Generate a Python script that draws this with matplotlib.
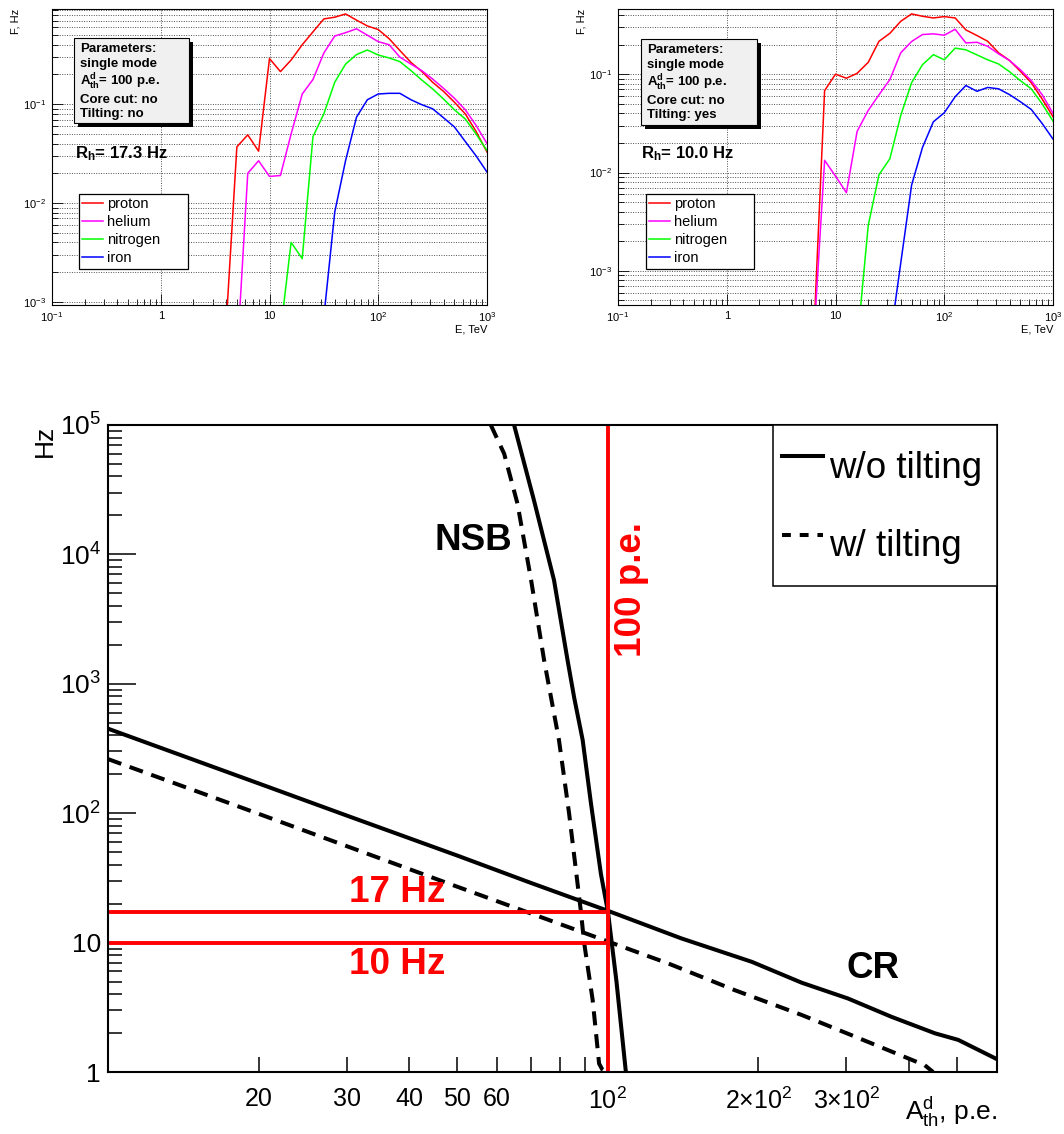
import numpy as np
import matplotlib
matplotlib.use('Agg')
import matplotlib.pyplot as plt
from matplotlib.patches import Rectangle
from matplotlib.lines import Line2D
from matplotlib.ticker import FixedLocator, LogLocator, FuncFormatter, NullFormatter

plt.rcParams['font.family'] = ['Liberation Sans', 'DejaVu Sans']
plt.rcParams['mathtext.fontset'] = 'custom'
plt.rcParams['mathtext.rm'] = 'Liberation Sans'
plt.rcParams['mathtext.it'] = 'Liberation Sans:italic'
plt.rcParams['mathtext.bf'] = 'Liberation Sans:bold'

# ---------------- data: top panels (trigger rate spectra) ----------------
energy_tev = [3.98, 5.01, 6.31, 7.94, 10.0, 12.6, 15.8, 20.0, 25.1, 31.6, 39.8, 50.1,
              63.1, 79.4, 100, 126, 158, 200, 251, 316, 398, 501, 631, 794, 1000]

# w/o tilting (left)
left_proton = [5.5e-4, 0.037, 0.049, 0.0335, 0.29, 0.214, 0.28, 0.40, 0.54, 0.73, 0.76, 0.82,
               0.71, 0.62, 0.57, 0.46, 0.35, 0.265, 0.215, 0.167, 0.135, 0.105, 0.080, 0.053, 0.0328]
left_helium = [2.6e-4, 0.020, 0.0268, 0.0186, 0.019, 0.050, 0.127, 0.178, 0.33, 0.49, 0.53,
               0.58, 0.50, 0.43, 0.40, 0.30, 0.255, 0.219, 0.18, 0.145, 0.115, 0.088, 0.061, 0.040]
left_nitrogen = [4.9e-4, 0.0040, 0.00274, 0.047, 0.080, 0.167, 0.255, 0.318, 0.354, 0.315,
                 0.294, 0.27, 0.219, 0.176, 0.143, 0.113, 0.088, 0.071, 0.050, 0.034]
left_iron = [7e-4, 0.0081, 0.027, 0.074, 0.111, 0.127, 0.129, 0.129, 0.111, 0.099, 0.090,
             0.073, 0.059, 0.042, 0.030, 0.0206]

# w/ tilting (right)
right_proton = [2.2e-4, 0.068, 0.10, 0.091, 0.102, 0.132, 0.216, 0.26, 0.345, 0.41, 0.388,
                0.373, 0.385, 0.373, 0.282, 0.247, 0.216, 0.165, 0.138, 0.107, 0.082, 0.056, 0.037]
right_helium = [2e-4, 0.0133, 0.0092, 0.00624, 0.0262, 0.0428, 0.0617, 0.088, 0.165, 0.215,
                0.253, 0.257, 0.249, 0.286, 0.208, 0.211, 0.192, 0.161, 0.138, 0.111, 0.086, 0.062, 0.040]
right_nitrogen = [1.8e-4, 0.0029, 0.0095, 0.0138, 0.038, 0.082, 0.125, 0.158, 0.14, 0.184,
                  0.177, 0.157, 0.14, 0.127, 0.106, 0.086, 0.071, 0.050, 0.0334]
right_iron = [1.9e-4, 0.0012, 0.00746, 0.018, 0.0328, 0.0405, 0.059, 0.0767, 0.067, 0.0733,
              0.071, 0.062, 0.0525, 0.0438, 0.0316, 0.0219]

species = ['proton', 'helium', 'nitrogen', 'iron']
species_colors = ['#ff0000', '#ff00ff', '#00ff00', '#0000ff']

# ---------------- data: bottom panel (rate vs threshold) ----------------
cr_notilt_A = [10, 20, 30, 50, 70, 100, 140, 194, 244, 302, 369, 451, 502, 604]
cr_notilt_Hz = [450, 170, 96, 47, 29, 17.6, 10.8, 7.1, 4.9, 3.7, 2.67, 1.99, 1.77, 1.24]
cr_tilt_A = [10, 20, 50, 100, 132, 179, 244, 331, 430, 447]
cr_tilt_Hz = [262, 99, 27, 10.2, 6.9, 4.3, 2.76, 1.71, 1.13, 1.0]
nsb_notilt_A = [64.9, 71.1, 78, 83, 85.6, 89, 92.5, 96.8, 100, 104, 108.6]
nsb_notilt_Hz = [1e5, 2.63e4, 6330, 1530, 780, 368, 118, 34, 17.3, 5.0, 1.0]
nsb_tilt_A = [58.3, 62, 65.9, 70.2, 74.5, 79.8, 83.6, 88.3, 89.6, 93.2, 96, 97.5, 99]
nsb_tilt_Hz = [1e5, 6.0e4, 2.48e4, 6310, 1530, 368, 100, 17.3, 10, 3.6, 1.16, 1.04, 1.0]

threshold_pe = 100
rate_notilt = 17.3
rate_tilt = 10.0

W, H = 1064, 1134
fig = plt.figure(figsize=(W / 100, H / 100), dpi=100)


def fx(x):
    return x / W


def fy(y):
    return 1 - y / H


def rect(x0, y0, x1, y1):
    return [fx(x0), fy(y1), fx(x1) - fx(x0), fy(y0) - fy(y1)]


def top_fmt(v, pos):
    table = {0.1: r'$\mathregular{10^{-1}}$', 1: '1', 10: '10', 100: r'$\mathregular{10^{2}}$',
             1000: r'$\mathregular{10^{3}}$', 0.01: r'$\mathregular{10^{-2}}$',
             0.001: r'$\mathregular{10^{-3}}$'}
    for k, s in table.items():
        if abs(v - k) / k < 1e-6:
            return s
    return ''


def top_panel(frame, ylim, data, params, rh, boxpx, rhpx, legpx, ylab_x):
    ax = fig.add_axes(rect(*frame))
    ax.set_xscale('log')
    ax.set_yscale('log')
    for name, vals, col in zip(species, data, species_colors):
        ax.plot(energy_tev[-len(vals):], vals, color=col, lw=1.1, label=name)
    ax.set_xlim(0.1, 1000)
    ax.set_ylim(*ylim)
    ax.xaxis.set_major_locator(FixedLocator([0.1, 1, 10, 100, 1000]))
    ax.xaxis.set_minor_locator(LogLocator(base=10, subs=np.arange(2, 10), numticks=30))
    ax.yaxis.set_major_locator(FixedLocator([1e-3, 1e-2, 1e-1]))
    ax.yaxis.set_minor_locator(LogLocator(base=10, subs=np.arange(2, 10), numticks=30))
    ax.xaxis.set_major_formatter(FuncFormatter(top_fmt))
    ax.yaxis.set_major_formatter(FuncFormatter(top_fmt))
    ax.xaxis.set_minor_formatter(NullFormatter())
    ax.yaxis.set_minor_formatter(NullFormatter())
    ax.tick_params(which='both', direction='in', top=False, right=False, labelsize=8, width=0.6)
    ax.tick_params(which='major', length=8, pad=4)
    ax.tick_params(which='minor', length=4)
    ax.grid(True, which='major', axis='x', ls=(0, (1, 1.5)), color='#505050', lw=0.7)
    ax.grid(True, which='both', axis='y', ls=(0, (1, 1.5)), color='#505050', lw=0.7)
    for sp in ax.spines.values():
        sp.set_linewidth(0.8)
    # axis titles
    fig.text(fx(ylab_x), fy(frame[1]), 'F, Hz', rotation=90, ha='center', va='top', fontsize=8)
    fig.text(fx(frame[2]), fy(330), 'E, TeV', ha='right', va='center', fontsize=8)
    # parameter box with shadow
    x0, y0, x1, y1 = boxpx
    fig.add_artist(Rectangle((fx(x0 + 4), fy(y1 + 4)), fx(x1) - fx(x0), fy(y0) - fy(y1),
                             transform=fig.transFigure, facecolor='black', edgecolor='none', zorder=5))
    fig.add_artist(Rectangle((fx(x0), fy(y1)), fx(x1) - fx(x0), fy(y0) - fy(y1),
                             transform=fig.transFigure, facecolor='#f0f0f0', edgecolor='black',
                             lw=0.8, zorder=6))
    ys = [49, 64, 82, 100, 114]
    for s, yy in zip(params, ys):
        fig.text(fx(x0 + 6), fy(y0 + yy - 38), s, fontsize=9.5, fontweight='bold', va='center',
                 ha='left', zorder=7)
    fig.text(fx(rhpx[0]), fy(rhpx[1]), rh, fontsize=12, fontweight='bold', va='center', ha='left',
             zorder=7)
    lx0, ly0, lx1, ly1 = legpx
    leg = ax.legend(loc='upper left', bbox_to_anchor=(fx(lx0), fy(ly0), fx(lx1) - fx(lx0), 0.0),
                    bbox_transform=fig.transFigure, mode='expand', borderaxespad=0,
                    fancybox=False, edgecolor='black', framealpha=1, fontsize=10.5,
                    handlelength=1.4, handletextpad=0.3, labelspacing=0.28, borderpad=0.22)
    leg.get_frame().set_linewidth(0.9)
    return ax


params_left = ['Parameters:', 'single mode', r'$\mathbf{A^{d}_{th}}$= 100 p.e.', 'Core cut: no',
               'Tilting: no']
params_right = ['Parameters:', 'single mode', r'$\mathbf{A^{d}_{th}}$= 100 p.e.', 'Core cut: no',
                'Tilting: yes']

top_panel((52, 9, 487, 305), (9.3e-4, 0.92),
          [left_proton, left_helium, left_nitrogen, left_iron], params_left,
          r'$\mathbf{R_{h}}$= 17.3 Hz', (74, 38, 189, 123), (75, 154), (79, 194, 188, 268), 15)
top_panel((618, 9, 1053, 305), (4.5e-4, 0.46),
          [right_proton, right_helium, right_nitrogen, right_iron], params_right,
          r'$\mathbf{R_{h}}$= 10.0 Hz', (641, 39, 757, 125), (641, 154), (646, 194, 754, 268), 581)

# ---------------- bottom panel ----------------
ax = fig.add_axes(rect(108, 425, 997, 1072))
ax.set_xscale('log')
ax.set_yscale('log')
lw = 2.9
dash = (0, (3.5, 2.2))
ax.plot(cr_notilt_A, cr_notilt_Hz, color='black', lw=lw, solid_joinstyle='round')
ax.plot(cr_tilt_A, cr_tilt_Hz, color='black', lw=lw, ls=dash)
ax.plot(nsb_notilt_A, nsb_notilt_Hz, color='black', lw=lw, solid_joinstyle='round')
ax.plot(nsb_tilt_A, nsb_tilt_Hz, color='black', lw=lw, ls=dash)
ax.plot([10, threshold_pe], [rate_notilt, rate_notilt], color='#ff0000', lw=2.8)
ax.plot([10, threshold_pe], [rate_tilt, rate_tilt], color='#ff0000', lw=2.8)
ax.plot([threshold_pe, threshold_pe], [1, 1e5], color='#ff0000', lw=2.8)
ax.set_xlim(10, 600)
ax.set_ylim(1, 1e5)

xt = [20, 30, 40, 50, 60, 70, 80, 90, 100, 200, 300, 400, 500]
xl = {20: '20', 30: '30', 40: '40', 50: '50', 60: '60', 100: r'$\mathregular{10^{2}}$',
      200: r'$\mathregular{2{\times}10^{2}}$', 300: r'$\mathregular{3{\times}10^{2}}$'}
ax.xaxis.set_major_locator(FixedLocator(xt))
ax.xaxis.set_minor_locator(FixedLocator([]))
ax.set_xticklabels([xl.get(v, '') for v in xt])
ax.yaxis.set_major_locator(FixedLocator([1, 10, 100, 1e3, 1e4, 1e5]))
ax.yaxis.set_minor_locator(LogLocator(base=10, subs=np.arange(2, 10), numticks=30))
ax.yaxis.set_minor_formatter(NullFormatter())
ax.set_yticklabels(['1', '10', r'$\mathregular{10^{2}}$', r'$\mathregular{10^{3}}$',
                    r'$\mathregular{10^{4}}$', r'$\mathregular{10^{5}}$'])
ax.tick_params(axis='x', which='major', direction='in', length=11, width=1.1, labelsize=18,
               pad=11, top=False)
ax.tick_params(axis='y', which='major', direction='in', length=20, width=1.1, labelsize=19,
               pad=5, right=False)
ax.tick_params(axis='y', which='minor', direction='in', length=10, width=1.1, right=False)
for sp in ax.spines.values():
    sp.set_linewidth(1.5)

ax.text(0.4106, 0.822, 'NSB', transform=ax.transAxes, ha='center', va='center', fontsize=26.5,
        fontweight='bold')
ax.text(0.8605, 0.1607, 'CR', transform=ax.transAxes, ha='center', va='center', fontsize=26.5,
        fontweight='bold')
ax.text(0.325, 0.2767, '17 Hz', transform=ax.transAxes, ha='center', va='center', fontsize=26.5,
        fontweight='bold', color='#ff0000')
ax.text(0.325, 0.1654, '10 Hz', transform=ax.transAxes, ha='center', va='center', fontsize=26.5,
        fontweight='bold', color='#ff0000')
ax.text(0.5894, 0.745, '100 p.e.', transform=ax.transAxes, ha='center', va='center',
        fontsize=26.5, fontweight='bold', color='#ff0000', rotation=90)

handles = [Line2D([], [], color='black', lw=lw),
           Line2D([], [], color='black', lw=lw, ls=(0, (2.2, 2.2)))]
leg = ax.legend(handles, ['w/o tilting', 'w/ tilting'], loc='upper left',
                bbox_to_anchor=((773 - 108) / 889, 1.0, 224 / 889, 0.0), mode='expand',
                borderaxespad=0, fancybox=False, edgecolor='black', framealpha=1, fontsize=26.5,
                handlelength=1.1, handleheight=2.3, handletextpad=0.17, labelspacing=0.4,
                borderpad=0.25)
leg.get_frame().set_linewidth(1.1)

fig.text(fx(45), fy(425), 'Hz', rotation=90, ha='center', va='top', fontsize=19)
fig.text(fx(997), fy(1112), r'$\mathregular{A^{d}_{th}}$, p.e.', ha='right', va='center',
         fontsize=19)

fig.savefig('out.png', dpi=100)
